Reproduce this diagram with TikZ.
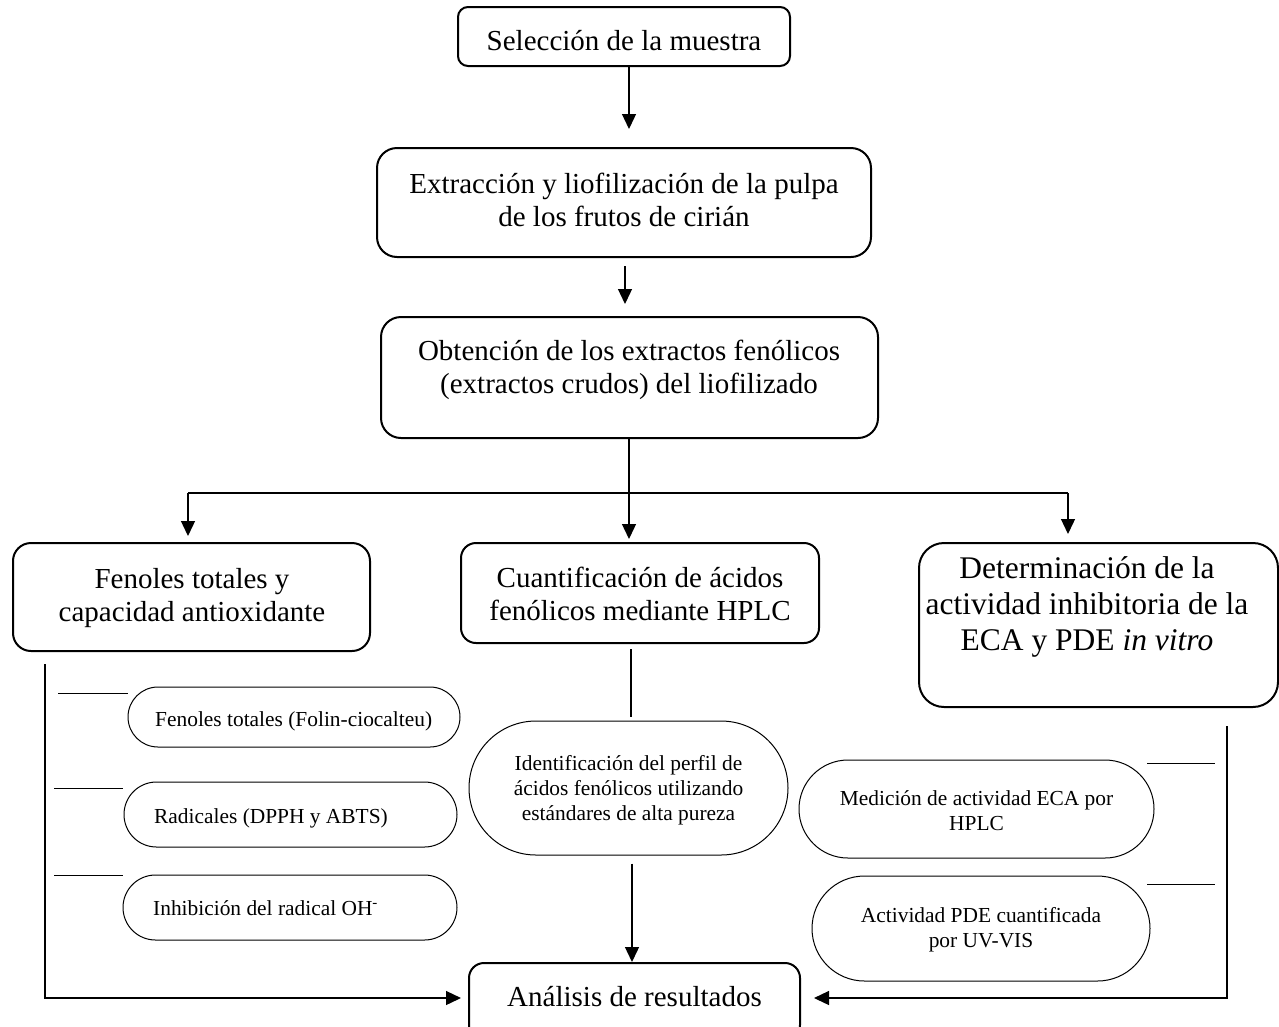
\documentclass[tikz,border=0pt]{standalone}
\usepackage{fontspec}
\setmainfont{Liberation Serif}
\usetikzlibrary{arrows.meta,shapes.misc}
\newcommand\mlines[1]{\begin{tabular}[t]{@{}c@{}}#1\end{tabular}}
\begin{document}
\begin{tikzpicture}[x=1pt,y=-1pt,
  mainbox/.style={draw, line width=2pt, rounded corners=15pt, inner sep=0pt, rectangle},
  pill/.style={draw, line width=1pt, rounded rectangle, inner sep=0pt},
  bigtxt/.style={font=\fontsize{29}{33.4}\selectfont, inner sep=0pt, anchor=base},
  rtxt/.style={font=\fontsize{31.5}{36}\selectfont, inner sep=0pt, anchor=base},
  smalltxt/.style={font=\fontsize{21.4}{25}\selectfont, inner sep=0pt, anchor=base},
  conn/.style={line width=1.3pt},
  thin/.style={line width=1pt},
  arr/.style={conn, -{Triangle[length=15pt,width=14pt]}},
]
\useasboundingbox (0,0) rectangle (1279,1026);

% main boxes
\node[mainbox, rounded corners=10pt, minimum width=332pt, minimum height=59pt] (b1) at (624,36.5) {};
\node[mainbox, rounded corners=20pt, minimum width=494pt, minimum height=109pt] (b2) at (624,202.5) {};
\node[mainbox, rounded corners=20pt, minimum width=497pt, minimum height=121pt] (b3) at (629.5,377.5) {};
\node[mainbox, rounded corners=18pt, minimum width=357pt, minimum height=108pt] (bL) at (191.5,597) {};
\node[mainbox, minimum width=358pt, minimum height=100pt] (bM) at (640,593) {};
\node[mainbox, rounded corners=25pt, minimum width=359pt, minimum height=164pt] (bR) at (1098.5,625) {};
\node[mainbox, minimum width=331pt, minimum height=77pt] (bA) at (634.5,1001.5) {};

% pills
\node[pill, minimum width=332pt, minimum height=60pt] (pL1) at (294,717) {};
\node[pill, minimum width=333pt, minimum height=65pt] (pL2) at (290.5,814.5) {};
\node[pill, minimum width=334pt, minimum height=65pt] (pL3) at (290,907.5) {};
\node[pill, minimum width=319pt, minimum height=134pt] (pM) at (628.5,788) {};
\node[pill, minimum width=355pt, minimum height=98pt] (pR1) at (976.5,809) {};
\node[pill, minimum width=338pt, minimum height=105pt] (pR2) at (981,928.5) {};

% texts
\node[bigtxt] (t1) at (624,50) {Selección de la muestra};
\node[bigtxt] (t2) at (624,193) {\mlines{Extracción y liofilización de la pulpa\\de los frutos de cirián}};
\node[bigtxt] (t3) at (629,360) {\mlines{Obtención de los extractos fenólicos\\(extractos crudos) del liofilizado}};
\node[bigtxt] (tL) at (192,588) {\mlines{Fenoles totales y\\capacidad antioxidante}};
\node[bigtxt] (tM) at (640,587) {\mlines{Cuantificación de ácidos\\fenólicos mediante HPLC}};
\node[rtxt] (tR) at (1087,578) {\mlines{Determinación de la\\actividad inhibitoria de la\\ECA y PDE \textit{in vitro}}};
\node[bigtxt] (tA) at (634.5,1006) {Análisis de resultados};

\node[smalltxt, anchor=base west] (tL1) at (155,726) {Fenoles totales (Folin-ciocalteu)};
\node[smalltxt, anchor=base west] (tL2) at (154,823) {Radicales (DPPH y ABTS)};
\node[smalltxt, anchor=base west] (tL3) at (153,915) {Inhibición del radical OH\textsuperscript{-}};
\node[smalltxt] (tPM) at (628.5,770) {\mlines{Identificación del perfil de\\ácidos fenólicos utilizando\\estándares de alta pureza}};
\node[smalltxt] (tR1) at (976.5,805) {\mlines{Medición de actividad ECA por\\HPLC}};
\node[smalltxt] (tR2) at (981,922) {\mlines{Actividad PDE cuantificada\\por UV-VIS}};

% connectors
\coordinate (x1) at (629,0);
\draw[arr, shorten >=18pt] (b1.south -| x1) -- (b2.north -| x1);
\coordinate (x2) at (625,0);
\draw[arr, shorten <=8pt, shorten >=12pt] (b2.south -| x2) -- (b3.north -| x2);
\coordinate (x3) at (629,0);
\draw[arr, shorten >=3pt] (b3.south -| x3) -- (bM.north -| x3);
\coordinate (jl) at (188,493);
\coordinate (jr) at (1068,493);
\draw[conn] (jl) -- (jr);
\draw[arr, shorten >=6pt] (jl) -- (jl |- bL.north);
\draw[arr, shorten >=8pt] (jr) -- (jr |- bR.north);
\coordinate (x4) at (631,0);
\draw[conn, shorten <=5pt, shorten >=4pt] (bM.south -| x4) -- (pM.north -| x4);
\coordinate (x5) at (632,0);
\draw[arr, shorten <=8pt] (pM.south -| x5) -- (bA.north -| x5);
\coordinate (xl) at (45,998);
\draw[arr, shorten <=12pt, shorten >=7pt] (bL.south -| xl) -- (xl) -- (xl -| bA.west);
\coordinate (xr) at (1227,998);
\draw[arr, shorten <=18pt, shorten >=13pt] (bR.south -| xr) -- (xr) -- (xr -| bA.east);

% short side lines
\draw[thin] (58,693) -- (pL1.west |- 0,693);
\draw[thin] (54,788) -- (123,788);
\draw[thin] (54,875) -- (123,875);
\draw[thin] (1147,763) -- (1215,763);
\draw[thin] (1147,884) -- (1215,884);
\end{tikzpicture}
\end{document}
